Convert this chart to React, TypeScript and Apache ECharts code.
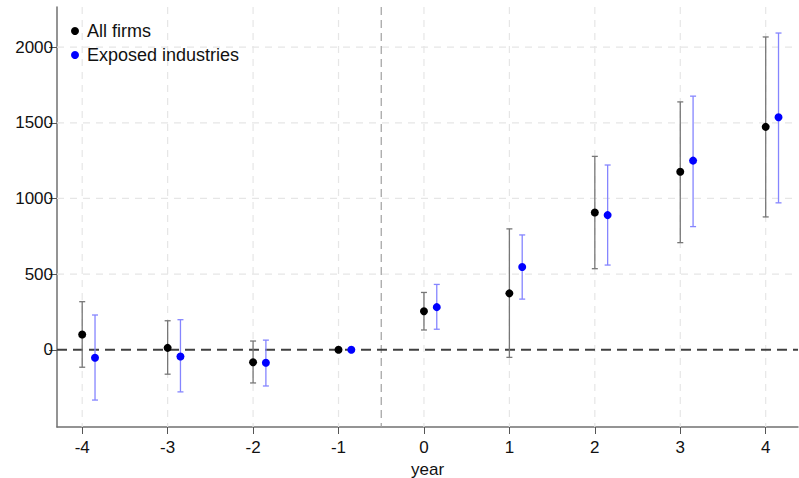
import React, { useEffect, useRef } from "react";
import * as echarts from "echarts";

// Event-time coefficients with 95% confidence intervals
const years = [-4, -3, -2, -1, 0, 1, 2, 3, 4];
const allEst = [101, 13, -82, 0, 255, 373, 907, 1177, 1473];
const allLo = [-115, -161, -219, 0, 131, -50, 536, 708, 878];
const allHi = [318, 192, 58, 0, 379, 799, 1278, 1638, 2067];
const expEst = [-53, -44, -86, 0, 282, 547, 890, 1250, 1537];
const expLo = [-332, -278, -239, 0, 136, 335, 560, 814, 971];
const expHi = [230, 199, 64, 0, 432, 759, 1221, 1676, 2093];
const yTicks = [0, 500, 1000, 1500, 2000];
const eventLine = -0.5;

const FONT = "'Liberation Sans', Arial, sans-serif";
const SHIFT = 0.15; // horizontal dodge for the second series

function errorBars(lo: number[], hi: number[], dx: number) {
  return years
    .map((y, i) => [y + dx, lo[i], hi[i]])
    .filter((d) => d[1] !== d[2]);
}

function makeBarRenderer(color: string) {
  return (params: any, api: any) => {
    const x = api.value(0);
    const top = api.coord([x, api.value(2)]);
    const bot = api.coord([x, api.value(1)]);
    const cap = 3;
    const style = { stroke: color, lineWidth: 1.3 };
    return {
      type: "group",
      children: [
        { type: "line", shape: { x1: top[0], y1: top[1], x2: bot[0], y2: bot[1] }, style },
        { type: "line", shape: { x1: top[0] - cap, y1: top[1], x2: top[0] + cap, y2: top[1] }, style },
        { type: "line", shape: { x1: bot[0] - cap, y1: bot[1], x2: bot[0] + cap, y2: bot[1] }, style },
      ],
    };
  };
}

// Full-height vertical or full-width horizontal reference line
function makeRuleRenderer(vertical: boolean, stroke: string, dash: number[], width: number) {
  return (params: any, api: any) => {
    const cs = params.coordSys;
    const v = api.value(0);
    let shape;
    if (vertical) {
      const p = api.coord([v, 0]);
      shape = { x1: p[0], y1: cs.y, x2: p[0], y2: cs.y + cs.height };
    } else {
      const p = api.coord([0, v]);
      shape = { x1: cs.x, y1: p[1], x2: cs.x + cs.width, y2: p[1] };
    }
    return { type: "line", shape, style: { stroke, lineWidth: width, lineDash: dash } };
  };
}

export default function App() {
  const ref = useRef<HTMLDivElement>(null);

  useEffect(() => {
    if (!ref.current) return;
    const chart = echarts.init(ref.current, null, { renderer: "svg" });

    const ruleBase = { type: "custom", silent: true, legendHoverLink: false };

    chart.setOption({
      animation: false,
      textStyle: { fontFamily: FONT },
      grid: {
        left: 57,
        top: 7,
        width: 741,
        height: 420,
        containLabel: false,
        outerBoundsMode: "none",
      },
      legend: {
        orient: "vertical",
        left: 66,
        top: 17,
        itemWidth: 8,
        itemHeight: 8,
        itemGap: 6,
        textStyle: { fontSize: 18, color: "#111", fontFamily: FONT, padding: [0, 0, 0, 3] },
        data: [
          { name: "All firms", icon: "circle" },
          { name: "Exposed industries", icon: "circle" },
        ],
      },
      xAxis: {
        type: "value",
        min: -4.295,
        max: 4.378,
        name: "year",
        nameLocation: "middle",
        nameGap: 30,
        nameTextStyle: { fontSize: 17, color: "#111", fontFamily: FONT },
        axisLine: { show: true, onZero: false, lineStyle: { color: "#707070", width: 1.5 } },
        axisTick: { show: true, length: 7, customValues: years, lineStyle: { color: "#555" } },
        axisLabel: { customValues: years, fontSize: 17, color: "#111", margin: 12, fontFamily: FONT },
        splitLine: { show: false },
      },
      yAxis: {
        type: "value",
        min: -510,
        max: 2265,
        axisLine: { show: true, onZero: false, lineStyle: { color: "#707070", width: 1.5 } },
        axisTick: { show: true, length: 8, customValues: yTicks, lineStyle: { color: "#555" } },
        axisLabel: {
          customValues: yTicks,
          fontSize: 17,
          color: "#111",
          margin: 4,
          fontFamily: FONT,
          formatter: (v: number) => String(v),
        },
        splitLine: { show: false },
      },
      series: [
        {
          ...ruleBase,
          z: 1,
          renderItem: makeRuleRenderer(true, "#e6e6e6", [7, 6], 1.2),
          encode: { x: 0 },
          data: years.map((y) => [y]),
        },
        {
          ...ruleBase,
          z: 1,
          renderItem: makeRuleRenderer(false, "#e6e6e6", [7, 6], 1.2),
          encode: { y: 0 },
          data: yTicks.filter((v) => v !== 0).map((v) => [v]),
        },
        {
          ...ruleBase,
          z: 2,
          renderItem: makeRuleRenderer(true, "#a0a0a0", [8, 5], 1.2),
          encode: { x: 0 },
          data: [[eventLine]],
        },
        {
          ...ruleBase,
          z: 2,
          renderItem: makeRuleRenderer(false, "#404040", [10, 6], 2),
          encode: { y: 0 },
          data: [[0]],
        },
        {
          type: "custom",
          z: 3,
          silent: true,
          renderItem: makeBarRenderer("#777777"),
          encode: { x: 0, y: [1, 2] },
          data: errorBars(allLo, allHi, 0),
        },
        {
          type: "custom",
          z: 3,
          silent: true,
          renderItem: makeBarRenderer("#8585ff"),
          encode: { x: 0, y: [1, 2] },
          data: errorBars(expLo, expHi, SHIFT),
        },
        {
          type: "scatter",
          name: "All firms",
          z: 4,
          symbol: "circle",
          symbolSize: 8,
          itemStyle: { color: "#000000", opacity: 1 },
          data: years.map((y, i) => [y, allEst[i]]),
        },
        {
          type: "scatter",
          name: "Exposed industries",
          z: 4,
          symbol: "circle",
          symbolSize: 8,
          itemStyle: { color: "#0000ff", opacity: 1 },
          data: years.map((y, i) => [y + SHIFT, expEst[i]]),
        },
      ],
    });

    return () => chart.dispose();
  }, []);

  return <div ref={ref} style={{ width: 799, height: 478, position: "absolute", left: 0, top: 0 }} />;
}
